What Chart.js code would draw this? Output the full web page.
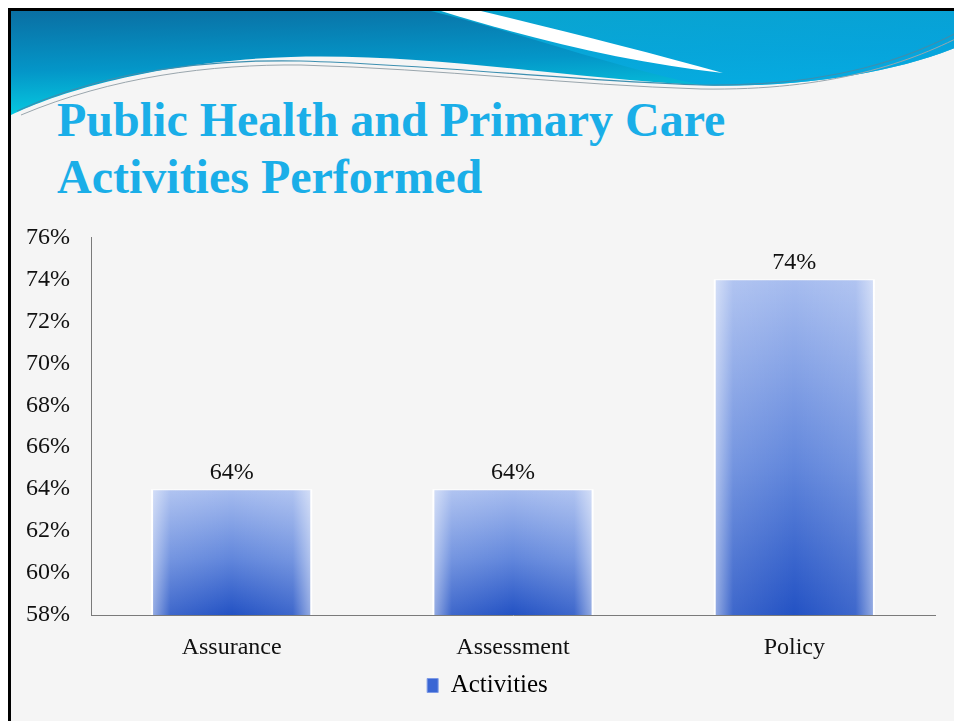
<!DOCTYPE html>
<html>
<head>
<meta charset="utf-8">
<script src="https://cdn.jsdelivr.net/npm/chart.js@4.4.1/dist/chart.umd.min.js"></script>
<style>
	html, body { margin: 0; padding: 0; background: #ffffff; }
	#slide {
		position: absolute; left: 8px; top: 8px; width: 960px; height: 730px;
		border-left: 3px solid #000; border-top: 3px solid #000;
		background: #f5f5f5; overflow: hidden;
	}
	#wave { position: absolute; left: 0; top: 0; }
	#title {
		position: absolute; left: 46px; top: 80px; margin: 0;
		font: bold 48px "Liberation Serif", "Times New Roman", serif;
		line-height: 57px; color: #1aaee8;
	}
	#chartBox { position: absolute; left: 0; top: 210px; width: 954px; height: 511px; }
</style>
</head>
<body>
<div id="slide">
	<svg id="wave" width="960" height="140">
		<defs>
			<linearGradient id="waveFill" x1="0" y1="0" x2="0.25" y2="1">
				<stop offset="0" stop-color="#0a6fa3"/>
				<stop offset="0.55" stop-color="#0496c8"/>
				<stop offset="1" stop-color="#06cfe2"/>
			</linearGradient>
			<linearGradient id="waveRight" x1="0" y1="0" x2="1" y2="1">
				<stop offset="0" stop-color="#0ab0d8"/>
				<stop offset="1" stop-color="#05a4e4"/>
			</linearGradient>
		</defs>
		<path d="M0,0 H960 V30 C900,58 800,78 690,74 C560,68 420,42 280,46 C150,50 50,80 0,104 Z" fill="url(#waveFill)"/>
		<path d="M420,0 H960 V30 C900,58 800,78 690,74 C600,55 520,25 420,0 Z" fill="url(#waveRight)" opacity="0.8"/>
		<path d="M430,0 C520,28 620,52 712,62 C640,42 560,22 470,0 Z" fill="#ffffff"/>
		<path d="M6,100 C90,62 190,48 290,50 C430,54 560,70 690,74 C820,76 900,48 960,14" fill="none" stroke="#3c8fb0" stroke-width="1.2"/>
		<path d="M10,104 C100,66 200,53 290,54 C430,58 560,74 690,78 C820,80 900,52 960,20" fill="none" stroke="#9aa6ad" stroke-width="1"/>
	</svg>
	<h1 id="title"></h1>
</div>
<div id="chartBox"><canvas id="activityChart"></canvas></div>
<script>
const titleLines = ['Public Health and Primary Care', 'Activities Performed'];
const categories = ['Assurance', 'Assessment', 'Policy'];
const activityValues = [64, 64, 74];
const seriesName = 'Activities';
const yMin = 58;
const yMax = 76;
const yStep = 2;

document.getElementById('title').innerHTML = titleLines.join('<br>');

const serifFont = '"Liberation Serif", "Times New Roman", serif';

//vertical gradient for each bar, from its top down to the axis
function barGradient(context) {
	const chart = context.chart;
	const area = chart.chartArea;
	if (!area || context.raw == null) return '#4a74d6';
	const top = chart.scales.y.getPixelForValue(context.raw);
	const g = chart.ctx.createLinearGradient(0, top, 0, area.bottom);
	g.addColorStop(0, '#a6bcef');
	g.addColorStop(0.55, '#6287dc');
	g.addColorStop(1, '#2352c4');
	return g;
}

//soft light edges on the bars
const barGlow = {
	id: 'barGlow',
	afterDatasetsDraw(chart) {
		const ctx = chart.ctx;
		const bottom = chart.chartArea.bottom;
		chart.getDatasetMeta(0).data.forEach((bar) => {
			const left = bar.x - bar.width / 2;
			const g = ctx.createLinearGradient(left, 0, left + bar.width, 0);
			g.addColorStop(0, 'rgba(255,255,255,0.55)');
			g.addColorStop(0.12, 'rgba(255,255,255,0.12)');
			g.addColorStop(0.5, 'rgba(255,255,255,0)');
			g.addColorStop(0.88, 'rgba(255,255,255,0.12)');
			g.addColorStop(1, 'rgba(255,255,255,0.55)');
			ctx.save();
			ctx.fillStyle = g;
			ctx.fillRect(left, bar.y, bar.width, Math.min(bar.base, bottom) - bar.y);
			ctx.restore();
		});
	}
};

//value labels above the bars
const valueLabels = {
	id: 'valueLabels',
	afterDatasetsDraw(chart) {
		const ctx = chart.ctx;
		const values = chart.data.datasets[0].data;
		ctx.save();
		ctx.font = '24px ' + serifFont;
		ctx.fillStyle = '#111';
		ctx.textAlign = 'center';
		ctx.textBaseline = 'alphabetic';
		chart.getDatasetMeta(0).data.forEach((bar, i) => {
			ctx.fillText(values[i] + '%', bar.x, bar.y - 10);
		});
		ctx.restore();
	}
};

//nudge the legend a little to the right, under the plot
const legendShift = {
	id: 'legendShift',
	afterLayout(chart) {
		chart.legend.left += 20;
		chart.legend.right += 20;
	}
};

const chart = new Chart(document.getElementById('activityChart'), {
	type: 'bar',
	data: {
		labels: categories,
		datasets: [{
			label: seriesName,
			data: activityValues,
			backgroundColor: barGradient,
			borderColor: 'rgba(255,255,255,0.9)',
			borderWidth: { left: 2, right: 2, top: 1, bottom: 0 },
			borderSkipped: 'bottom',
			categoryPercentage: 1,
			barPercentage: 0.573
		}]
	},
	options: {
		responsive: true,
		maintainAspectRatio: false,
		animation: false,
		layout: { padding: { left: 0, right: 19, top: 4, bottom: 13 } },
		plugins: {
			tooltip: { enabled: false },
			legend: {
				position: 'bottom',
				labels: {
					color: '#111',
					font: { family: serifFont, size: 25 },
					boxWidth: 11,
					boxHeight: 14,
					padding: 10,
					generateLabels: () => [{
						text: seriesName,
						fillStyle: '#3a66d4',
						strokeStyle: '#7d9ae6',
						lineWidth: 1,
						datasetIndex: 0
					}]
				}
			}
		},
		scales: {
			x: {
				grid: { display: false },
				border: { display: true, color: '#7a7a7a', width: 1 },
				ticks: { color: '#111', font: { family: serifFont, size: 24 }, padding: 10 },
				afterFit: (scale) => { scale.height = 48; }
			},
			y: {
				min: yMin,
				max: yMax,
				grid: { display: false },
				border: { display: true, color: '#7a7a7a', width: 1 },
				ticks: {
					stepSize: yStep,
					color: '#111',
					font: { family: serifFont, size: 24 },
					padding: 13,
					callback: (v) => v + '%'
				},
				afterFit: (scale) => { scale.width = 91; }
			}
		}
	},
	plugins: [barGlow, valueLabels, legendShift]
});
</script>
</body>
</html>
